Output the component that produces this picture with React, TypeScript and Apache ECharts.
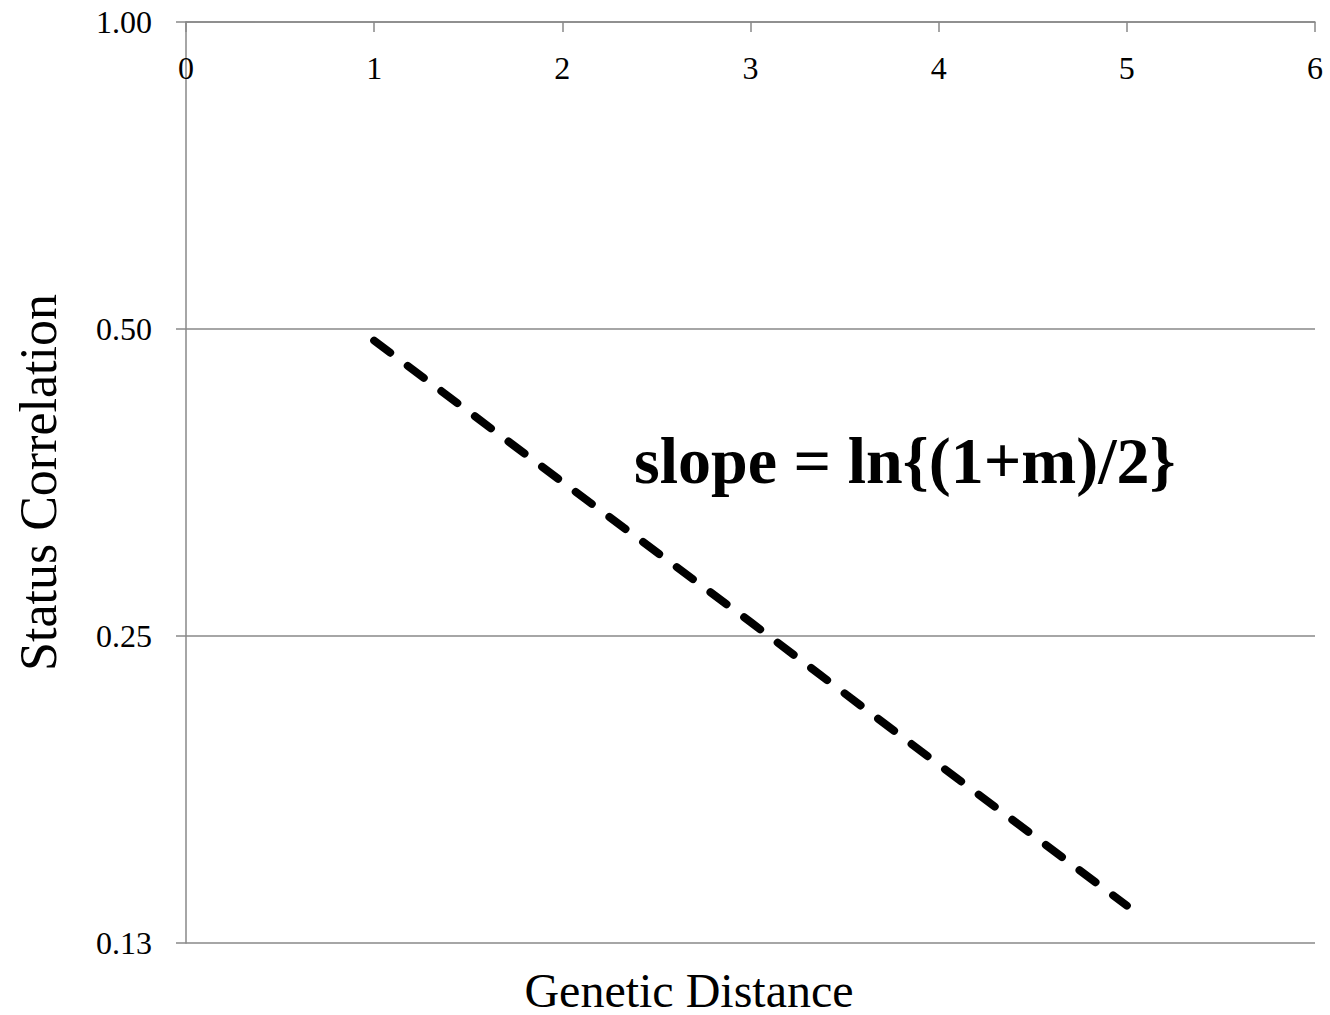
import React, { useEffect, useRef } from "react";
import * as echarts from "echarts";

const distances = [1, 2, 3, 4, 5];
const correlations = [0.487, 0.354, 0.258, 0.187, 0.136];
const xTicks = [0, 1, 2, 3, 4, 5, 6];
const yTicks = [0.125, 0.25, 0.5, 1];
const annotation = "slope = ln{(1+m)/2}";
const xTitle = "Genetic Distance";
const yTitle = "Status Correlation";

export default function App() {
  const ref = useRef<HTMLDivElement>(null);
  useEffect(() => {
    if (!ref.current) return;
    const chart = echarts.init(ref.current, null, { renderer: "svg" });
    const serif = "'Liberation Serif', 'DejaVu Serif', serif";
    const gray = "#888888";
    chart.setOption({
      animation: false,
      backgroundColor: "#ffffff",
      grid: { left: 186, right: 15, top: 22, bottom: 72, containLabel: false, outerBoundsMode: "none" },
      xAxis: {
        type: "value",
        position: "top",
        min: xTicks[0],
        max: xTicks[xTicks.length - 1],
        interval: 1,
        axisLine: { show: true, lineStyle: { color: gray, width: 1.5 } },
        axisTick: { show: true, inside: true, length: 10, lineStyle: { color: gray, width: 1.5 } },
        axisLabel: { inside: true, margin: 30, fontFamily: serif, fontSize: 32, color: "#000", verticalAlign: "top" },
        splitLine: { show: false },
      },
      yAxis: {
        type: "log",
        logBase: 2,
        min: yTicks[0],
        max: yTicks[yTicks.length - 1],
        interval: 1,
        name: yTitle,
        nameLocation: "middle",
        nameGap: 120,
        nameRotate: 90,
        nameTextStyle: { fontFamily: serif, fontSize: 52, color: "#000", lineHeight: 56 },
        axisLine: { show: true, lineStyle: { color: gray, width: 1.5 } },
        axisTick: { show: true, length: 10, lineStyle: { color: gray, width: 1.5 } },
        axisLabel: {
          margin: 34,
          fontFamily: serif,
          fontSize: 32,
          color: "#000",
          formatter: (v: number) => v.toFixed(2),
        },
        splitLine: { show: true, lineStyle: { color: gray, width: 1.5 } },
      },
      graphic: [
        {
          type: "text",
          left: 634,
          top: 427,
          style: {
            text: annotation,
            font: `bold 66px ${serif}`,
            fill: "#000",
          },
        },
        {
          type: "text",
          x: 689,
          y: 990,
          style: {
            text: xTitle,
            font: `48px ${serif}`,
            lineHeight: 46,
            fill: "#000",
            align: "center",
            verticalAlign: "middle",
          },
        },
      ],
      series: [
        {
          type: "line",
          data: distances.map((d, i) => [d, correlations[i]]),
          symbol: "none",
          lineStyle: { color: "#000", width: 8, type: [20, 22], cap: "round" },
        },
      ],
    });
    return () => chart.dispose();
  }, []);
  return <div ref={ref} style={{ position: "fixed", left: 0, top: 0, width: 1330, height: 1015 }} />;
}
